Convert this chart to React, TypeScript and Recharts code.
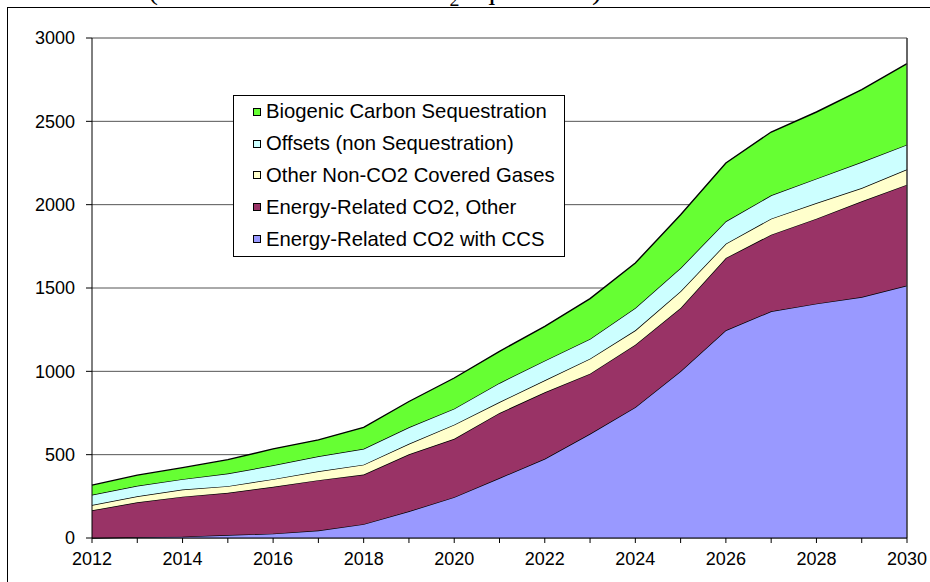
import {
  AreaChart,
  Area,
  XAxis,
  YAxis,
  CartesianGrid,
  ReferenceLine,
  Legend,
} from "recharts";

const years = [
  2012, 2013, 2014, 2015, 2016, 2017, 2018, 2019, 2020, 2021, 2022, 2023, 2024, 2025, 2026,
  2027, 2028, 2029, 2030,
];
const ccs = [0, 5, 8, 18, 26, 45, 83, 160, 245, 360, 475, 625, 785, 1000, 1246, 1360, 1406, 1446, 1515];
const energyOther = [166, 209, 240, 253, 281, 302, 298, 342, 350, 390, 399, 361, 375, 380, 434, 460, 510, 574, 605];
const otherGases = [32, 36, 43, 40, 46, 53, 59, 63, 85, 66, 72, 90, 86, 100, 86, 96, 94, 80, 92];
const offsets = [61, 63, 62, 76, 83, 90, 95, 99, 96, 114, 118, 118, 134, 140, 134, 140, 146, 156, 148];
const biogenic = [58, 64, 69, 83, 99, 99, 129, 155, 184, 190, 206, 242, 270, 320, 350, 380, 400, 434, 486];
const yTicks = [0, 500, 1000, 1500, 2000, 2500, 3000];

const series = [
  { key: "ccs", name: "Energy-Related CO2 with CCS", color: "#9999FF" },
  { key: "energyOther", name: "Energy-Related CO2, Other", color: "#993366" },
  { key: "otherGases", name: "Other Non-CO2 Covered Gases", color: "#FFFFCC" },
  { key: "offsets", name: "Offsets (non Sequestration)", color: "#CCFFFF" },
  { key: "biogenic", name: "Biogenic Carbon Sequestration", color: "#66FF33" },
];

const data = years.map((year, i) => ({
  year,
  ccs: ccs[i],
  energyOther: energyOther[i],
  otherGases: otherGases[i],
  offsets: offsets[i],
  biogenic: biogenic[i],
}));

const tickFont = { fill: "#000", fontSize: 18, fontFamily: "'Liberation Sans', Arial, sans-serif" };

function LegendBox() {
  const items = [...series].reverse();
  return (
    <div
      style={{
        boxSizing: "border-box",
        width: 332,
        height: 162,
        border: "1px solid #000",
        background: "#fff",
        fontFamily: "'Liberation Sans', Arial, sans-serif",
        fontSize: 20.3,
        color: "#000",
      }}
    >
      {items.map((s) => (
        <div key={s.key} style={{ height: 31.8, display: "flex", alignItems: "center", paddingLeft: 19 }}>
          <span
            style={{
              display: "inline-block",
              boxSizing: "border-box",
              width: 8,
              height: 8,
              border: "1px solid #000",
              background: s.color,
              marginRight: 5,
            }}
          />
          <span style={{ whiteSpace: "nowrap" }}>{s.name}</span>
        </div>
      ))}
    </div>
  );
}

export default function App() {
  return (
    <div
      style={{
        position: "absolute",
        left: 0,
        top: 0,
        width: 930,
        height: 582,
        overflow: "hidden",
        background: "#fff",
      }}
    >
      {/* title sits above the frame, only its descenders show */}
      <div
        style={{
          position: "absolute",
          left: 148,
          top: -28,
          fontFamily: "'Liberation Serif', 'Times New Roman', serif",
          fontSize: 30,
          whiteSpace: "nowrap",
          lineHeight: "normal",
        }}
      >
        (Million Metric Tons CO<sub style={{ fontSize: 20 }}>2</sub> equivalent)
      </div>
      <div
        style={{
          position: "absolute",
          left: 7,
          top: 7,
          width: 1000,
          height: 1000,
          borderLeft: "1px solid #000",
          borderTop: "1px solid #000",
        }}
      />
      <div style={{ position: "absolute", left: 0, top: 0 }}>
        <AreaChart width={930} height={582} data={data} margin={{ top: 38, right: 23, bottom: 14, left: 0 }}>
          <CartesianGrid vertical={false} stroke="#555" />
          <XAxis
            dataKey="year"
            type="number"
            domain={[2012, 2030]}
            ticks={years}
            interval={0}
            tickFormatter={(v: number) => (v % 2 === 0 ? String(v) : "")}
            axisLine={{ stroke: "#000" }}
            tickLine={{ stroke: "#000" }}
            tickSize={5}
            tickMargin={9}
            height={30}
            tick={tickFont}
          />
          <YAxis
            type="number"
            domain={[0, 3000]}
            ticks={yTicks}
            interval={0}
            width={92}
            axisLine={{ stroke: "#000" }}
            tickLine={{ stroke: "#000" }}
            tickSize={6}
            tickMargin={11}
            tick={tickFont}
          />
          <ReferenceLine y={3000} stroke="#a0a0a0" />
          {series.map((s) => (
            <Area
              key={s.key}
              type="linear"
              dataKey={s.key}
              name={s.name}
              stackId="1"
              stroke="#000"
              strokeWidth={1.4}
              fill={s.color}
              fillOpacity={1}
              dot={false}
              activeDot={false}
              isAnimationActive={false}
            />
          ))}
          <ReferenceLine x={2030} stroke="#333" strokeWidth={1.5} />
          <Legend
            layout="vertical"
            align="center"
            verticalAlign="middle"
            wrapperStyle={{ left: 233, top: 95, width: 332, height: 162 }}
            content={() => <LegendBox />}
          />
        </AreaChart>
      </div>
    </div>
  );
}
